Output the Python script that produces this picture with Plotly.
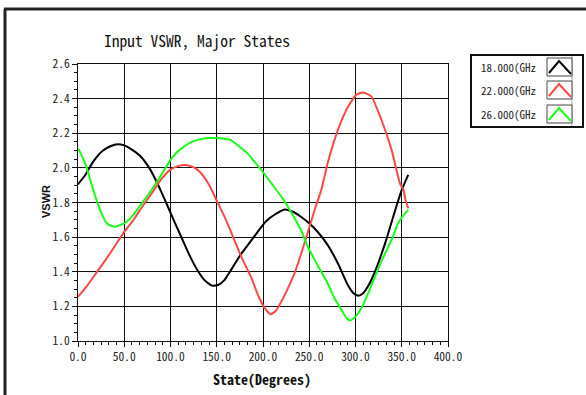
import plotly.graph_objects as go

# ---- data ----
series_names = ["18.000(GHz", "22.000(GHz", "26.000(GHz"]
series_colors = ["#000000", "#ff4848", "#18ff18"]

x18 = [0, 8, 17, 27, 35, 43, 50, 57, 67, 77, 85, 91, 96, 105, 113, 121, 129, 137, 145, 152, 158, 163,
       176, 190, 203, 214, 224, 233, 241, 250, 259, 270, 281, 292, 298, 303, 308, 314, 321, 332, 343, 350, 357]
y18 = [1.905, 1.96, 2.04, 2.10, 2.125, 2.137, 2.13, 2.11, 2.07, 2.0, 1.92, 1.85, 1.79, 1.68, 1.585, 1.49,
       1.41, 1.35, 1.32, 1.325, 1.35, 1.39, 1.50, 1.60, 1.69, 1.735, 1.76, 1.745, 1.718, 1.68, 1.631, 1.554,
       1.448, 1.32, 1.275, 1.262, 1.275, 1.32, 1.40, 1.564, 1.757, 1.873, 1.96]

x22 = [0, 10, 20, 30, 40, 50, 60, 70, 80, 90, 100, 108, 115, 122, 129, 136, 143, 150, 160, 169, 178, 187,
       195, 201, 208, 214, 220, 227, 234, 241, 248, 256, 263, 270, 281, 292, 301, 308, 317, 328, 339, 348,
       352, 354, 357]
y22 = [1.255, 1.32, 1.395, 1.47, 1.55, 1.63, 1.70, 1.78, 1.855, 1.935, 1.99, 2.01, 2.017, 2.01, 1.99, 1.95,
       1.89, 1.81, 1.70, 1.583, 1.47, 1.37, 1.26, 1.197, 1.155, 1.175, 1.23, 1.305, 1.39, 1.50, 1.62, 1.76,
       1.873, 2.03, 2.22, 2.355, 2.423, 2.436, 2.413, 2.278, 2.104, 1.911, 1.87, 1.815, 1.767]

x26 = [0, 5, 9.4, 15, 20, 26, 31, 36, 40, 46, 53, 60, 67, 71, 78, 89, 100, 107, 114.5, 123, 132.6, 142,
       150.7, 158, 165, 174, 183, 190, 198, 205, 212, 221, 227, 234, 241, 248, 256, 263, 270, 277, 285,
       290, 294, 300, 306.5, 314, 321, 328, 335.5, 341, 346, 351, 357]
y26 = [2.114, 2.06, 2.0, 1.90, 1.815, 1.73, 1.68, 1.665, 1.66, 1.67, 1.69, 1.73, 1.78, 1.81, 1.86, 1.95,
       2.046, 2.09, 2.123, 2.15, 2.166, 2.172, 2.172, 2.168, 2.162, 2.125, 2.085, 2.04, 1.99, 1.94, 1.89,
       1.825, 1.776, 1.71, 1.641, 1.55, 1.467, 1.40, 1.332, 1.25, 1.178, 1.135, 1.118, 1.14, 1.19, 1.28,
       1.371, 1.46, 1.544, 1.61, 1.68, 1.72, 1.757]

x_tick_vals = [0, 50, 100, 150, 200, 250, 300, 350, 400]
y_tick_vals = [1.0, 1.2, 1.4, 1.6, 1.8, 2.0, 2.2, 2.4, 2.6]

W, H = 586, 395
L, R, T, B = 78, 448, 64, 341

def px(x):
    return (x - L) / (R - L)

def py(y):
    return (B - y) / (B - T)

fig = go.Figure()
for xs, ys, name, col in zip([x18, x22, x26], [y18, y22, y26], series_names, series_colors):
    fig.add_trace(go.Scatter(x=xs, y=ys, mode="lines", name=name,
                             line=dict(color=col, width=2, shape="spline", smoothing=0.5),
                             showlegend=False))

MONO = "Noto Sans Mono CJK SC, Liberation Mono, monospace"
tick_font = dict(family=MONO, size=11.5, color="#222")

fig.update_layout(
    width=W, height=H,
    margin=dict(l=L, r=W - R, t=T, b=H - B),
    paper_bgcolor="white", plot_bgcolor="white",
    xaxis=dict(range=[0, 400], tickvals=x_tick_vals, ticktext=[f"{v:.1f}" for v in x_tick_vals],
               showgrid=True, gridcolor="#111", gridwidth=1, zeroline=False,
               showline=True, linecolor="#111", linewidth=1, mirror=True,
               ticks="outside", ticklen=5, tickcolor="#111",
               minor=dict(dtick=50 / 6, tick0=0, ticks="outside", ticklen=3, tickcolor="#111", showgrid=False),
               tickfont=tick_font),
    yaxis=dict(range=[1.0, 2.6], tickvals=y_tick_vals, ticktext=[f"{v:.1f}" for v in y_tick_vals],
               showgrid=True, gridcolor="#111", gridwidth=1, zeroline=False,
               showline=True, linecolor="#111", linewidth=1, mirror=True,
               ticks="outside", ticklen=5, tickcolor="#111",
               minor=dict(dtick=0.05, tick0=1.0, ticks="outside", ticklen=3, tickcolor="#111", showgrid=False),
               tickfont=tick_font),
)

shapes = []
annotations = []

# outer frame (top and left edges visible)
shapes.append(dict(type="line", xref="paper", yref="paper", x0=px(4), x1=px(590), y0=py(9), y1=py(9),
                   line=dict(color="#222", width=3)))
shapes.append(dict(type="line", xref="paper", yref="paper", x0=px(5), x1=px(5), y0=py(9), y1=py(400),
                   line=dict(color="#222", width=3)))

# chart title
annotations.append(dict(text="Input VSWR, Major States", xref="paper", yref="paper",
                        x=px(197), y=py(40), showarrow=False, xanchor="center", yanchor="middle",
                        font=dict(family=MONO, size=15.5, color="#111")))
# axis titles
annotations.append(dict(text="<b>State(Degrees)</b>", xref="paper", yref="paper",
                        x=px(262), y=py(379), showarrow=False, xanchor="center", yanchor="middle",
                        font=dict(family=MONO, size=14, color="#111")))
annotations.append(dict(text="<b>VSWR</b>", xref="paper", yref="paper", textangle=-90,
                        x=px(46), y=py(202), showarrow=False, xanchor="center", yanchor="middle",
                        font=dict(family="Liberation Sans, Arial, sans-serif", size=11, color="#111")))

# legend box
shapes.append(dict(type="rect", xref="paper", yref="paper", x0=px(471), x1=px(583), y0=py(55), y1=py(127),
                   line=dict(color="#111", width=2), fillcolor="white"))
shapes.append(dict(type="line", xref="paper", yref="paper", x0=px(572), x1=px(572), y0=py(56), y1=py(126),
                   line=dict(color="#aaa", width=1)))
box_tops = [58, 81, 105]
for i, (name, col) in enumerate(zip(series_names, series_colors)):
    t = box_tops[i]
    b = t + 18
    shapes.append(dict(type="rect", xref="paper", yref="paper", x0=px(547), x1=px(572), y0=py(t), y1=py(b),
                       line=dict(color="#444", width=1), fillcolor="white"))
    path = f"M {px(549)} {py(b - 3)} L {px(559)} {py(t + 3)} L {px(571)} {py(b - 2)}"
    shapes.append(dict(type="path", xref="paper", yref="paper", path=path,
                       line=dict(color=col, width=2)))
    annotations.append(dict(text=name, xref="paper", yref="paper", x=px(538), y=py((t + b) / 2),
                            showarrow=False, xanchor="right", yanchor="middle",
                            font=dict(family=MONO, size=11, color="#222")))

fig.update_layout(shapes=shapes, annotations=annotations)
fig.write_html("out.html")
